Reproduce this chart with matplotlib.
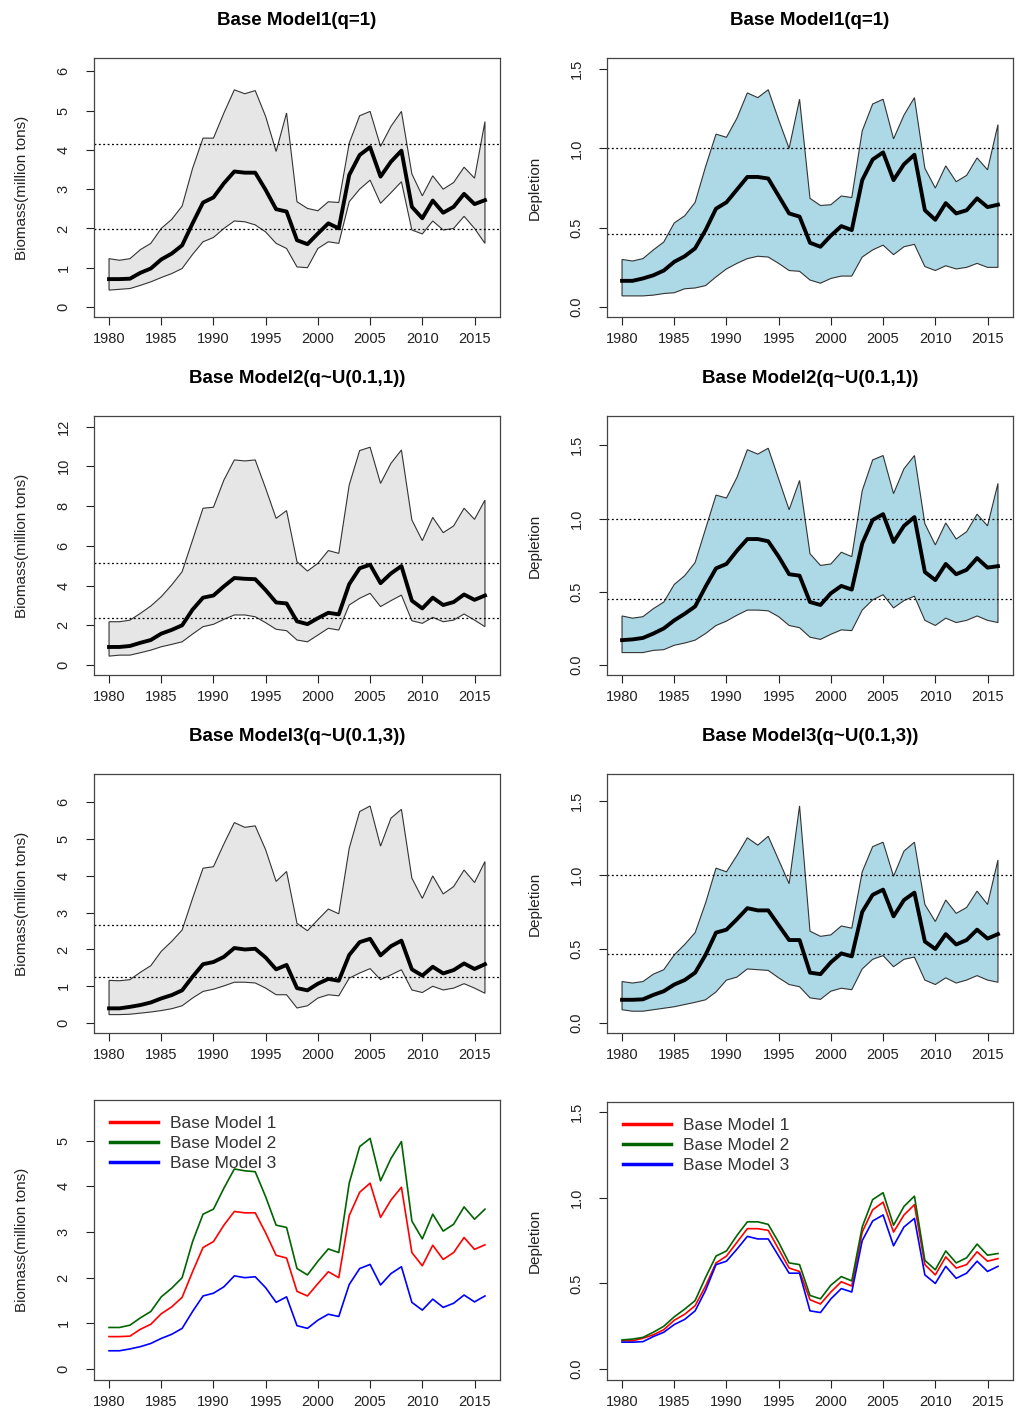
import numpy as np
import matplotlib
matplotlib.use("Agg")
import matplotlib.pyplot as plt

plt.rcParams['font.family'] = ['Liberation Sans', 'DejaVu Sans']

years = np.arange(1980, 2017)

# ---- biomass (million tons): median / lower / upper ----
bio1_med = [0.71, 0.71, 0.72, 0.87, 0.98, 1.21, 1.36, 1.57, 2.13, 2.66, 2.79, 3.15, 3.45, 3.42, 3.42, 2.98, 2.49, 2.43, 1.70, 1.60,
            1.87, 2.13, 2.00, 3.36, 3.87, 4.07, 3.32, 3.70, 3.98, 2.55, 2.26, 2.71, 2.40, 2.55, 2.88, 2.62, 2.72]
bio1_up = [1.23, 1.19, 1.23, 1.46, 1.62, 2.00, 2.23, 2.57, 3.53, 4.30, 4.30, 4.94, 5.53, 5.43, 5.51, 4.85, 3.96, 4.94, 2.68, 2.51,
           2.45, 2.68, 2.66, 4.17, 4.87, 4.98, 4.09, 4.60, 4.98, 3.39, 2.83, 3.34, 3.00, 3.17, 3.56, 3.28, 4.72]
bio1_lo = [0.43, 0.45, 0.47, 0.55, 0.64, 0.75, 0.85, 0.98, 1.34, 1.66, 1.77, 2.00, 2.19, 2.17, 2.09, 1.91, 1.62, 1.49, 1.02, 1.00,
           1.49, 1.66, 1.62, 2.68, 3.00, 3.23, 2.64, 2.91, 3.19, 1.96, 1.86, 2.19, 1.96, 2.00, 2.31, 2.00, 1.62]

bio2_med = [0.91, 0.91, 0.96, 1.12, 1.26, 1.58, 1.77, 2.00, 2.79, 3.39, 3.50, 3.96, 4.38, 4.34, 4.32, 3.77, 3.15, 3.10, 2.20, 2.06,
            2.36, 2.63, 2.55, 4.07, 4.87, 5.05, 4.12, 4.61, 4.98, 3.24, 2.85, 3.39, 3.02, 3.17, 3.55, 3.28, 3.50]
bio2_up = [2.18, 2.18, 2.26, 2.60, 2.97, 3.44, 4.03, 4.70, 6.29, 7.89, 7.94, 9.31, 10.32, 10.27, 10.32, 8.89, 7.38, 7.77, 5.20, 4.73,
           5.12, 5.76, 5.62, 9.06, 10.79, 10.96, 9.14, 10.15, 10.82, 7.30, 6.26, 7.43, 6.66, 7.00, 7.89, 7.33, 8.30]
bio2_lo = [0.45, 0.50, 0.50, 0.62, 0.75, 0.92, 1.04, 1.17, 1.56, 1.93, 2.05, 2.30, 2.52, 2.52, 2.43, 2.13, 1.80, 1.73, 1.26, 1.17,
           1.51, 1.85, 1.76, 3.02, 3.36, 3.61, 2.94, 3.24, 3.52, 2.23, 2.10, 2.40, 2.18, 2.26, 2.57, 2.26, 1.93]

bio3_med = [0.40, 0.40, 0.44, 0.49, 0.56, 0.67, 0.76, 0.89, 1.26, 1.60, 1.66, 1.80, 2.04, 2.00, 2.02, 1.78, 1.46, 1.58, 0.95, 0.89,
            1.07, 1.20, 1.15, 1.85, 2.20, 2.29, 1.84, 2.09, 2.24, 1.46, 1.29, 1.53, 1.35, 1.44, 1.62, 1.47, 1.60]
bio3_up = [1.16, 1.15, 1.18, 1.38, 1.56, 1.95, 2.22, 2.53, 3.39, 4.21, 4.25, 4.87, 5.45, 5.32, 5.36, 4.71, 3.85, 4.12, 2.71, 2.51,
           2.81, 3.10, 2.97, 4.75, 5.75, 5.90, 4.81, 5.57, 5.81, 3.94, 3.39, 4.00, 3.51, 3.71, 4.16, 3.82, 4.39]
bio3_lo = [0.23, 0.23, 0.24, 0.27, 0.30, 0.34, 0.39, 0.47, 0.68, 0.86, 0.92, 1.01, 1.11, 1.11, 1.09, 0.95, 0.77, 0.77, 0.41, 0.47,
           0.68, 0.77, 0.74, 1.22, 1.36, 1.48, 1.18, 1.31, 1.45, 0.90, 0.83, 1.00, 0.90, 0.95, 1.07, 0.95, 0.81]

# ---- depletion: median / lower / upper ----
dep1_med = [0.165, 0.165, 0.18, 0.20, 0.23, 0.285, 0.32, 0.37, 0.485, 0.62, 0.66, 0.74, 0.82, 0.82, 0.81, 0.70, 0.59, 0.57, 0.405, 0.38,
            0.45, 0.51, 0.485, 0.80, 0.93, 0.975, 0.80, 0.90, 0.96, 0.61, 0.55, 0.655, 0.59, 0.61, 0.685, 0.63, 0.645]
dep1_up = [0.30, 0.29, 0.305, 0.36, 0.41, 0.53, 0.575, 0.66, 0.885, 1.09, 1.07, 1.19, 1.35, 1.32, 1.37, 1.18, 1.00, 1.31, 0.685, 0.64,
           0.645, 0.70, 0.69, 1.11, 1.28, 1.31, 1.06, 1.21, 1.32, 0.875, 0.75, 0.89, 0.79, 0.83, 0.94, 0.865, 1.15]
dep1_lo = [0.07, 0.07, 0.07, 0.075, 0.085, 0.09, 0.115, 0.12, 0.135, 0.19, 0.24, 0.275, 0.305, 0.32, 0.315, 0.275, 0.23, 0.225, 0.17, 0.15,
           0.18, 0.195, 0.195, 0.315, 0.36, 0.39, 0.33, 0.38, 0.395, 0.255, 0.23, 0.26, 0.24, 0.25, 0.275, 0.25, 0.25]

dep2_med = [0.17, 0.175, 0.185, 0.215, 0.25, 0.305, 0.35, 0.40, 0.535, 0.66, 0.69, 0.78, 0.86, 0.86, 0.845, 0.74, 0.62, 0.61, 0.43, 0.41,
            0.49, 0.54, 0.515, 0.83, 0.99, 1.03, 0.84, 0.95, 1.01, 0.635, 0.58, 0.69, 0.62, 0.65, 0.73, 0.665, 0.675]
dep2_up = [0.335, 0.32, 0.33, 0.385, 0.43, 0.55, 0.61, 0.70, 0.93, 1.16, 1.14, 1.28, 1.47, 1.44, 1.48, 1.27, 1.06, 1.26, 0.76, 0.68,
           0.69, 0.77, 0.74, 1.19, 1.40, 1.43, 1.17, 1.34, 1.43, 0.965, 0.82, 0.97, 0.86, 0.91, 1.03, 0.95, 1.24]
dep2_lo = [0.085, 0.085, 0.085, 0.10, 0.105, 0.135, 0.15, 0.17, 0.215, 0.27, 0.30, 0.34, 0.375, 0.375, 0.37, 0.33, 0.27, 0.255, 0.19, 0.175,
           0.21, 0.24, 0.235, 0.375, 0.445, 0.48, 0.39, 0.44, 0.47, 0.305, 0.27, 0.32, 0.29, 0.305, 0.335, 0.305, 0.29]

dep3_med = [0.157, 0.157, 0.16, 0.19, 0.215, 0.26, 0.29, 0.34, 0.46, 0.61, 0.63, 0.70, 0.775, 0.76, 0.76, 0.66, 0.56, 0.56, 0.34, 0.33,
            0.41, 0.47, 0.45, 0.75, 0.865, 0.90, 0.72, 0.83, 0.88, 0.55, 0.50, 0.60, 0.53, 0.56, 0.63, 0.57, 0.60]
dep3_up = [0.28, 0.27, 0.28, 0.33, 0.36, 0.46, 0.53, 0.61, 0.81, 1.045, 1.02, 1.13, 1.25, 1.20, 1.26, 1.10, 0.94, 1.465, 0.62, 0.585,
           0.595, 0.655, 0.64, 1.02, 1.19, 1.22, 0.99, 1.16, 1.22, 0.80, 0.685, 0.83, 0.74, 0.78, 0.89, 0.80, 1.10]
dep3_lo = [0.09, 0.08, 0.08, 0.09, 0.10, 0.11, 0.125, 0.14, 0.157, 0.21, 0.29, 0.31, 0.365, 0.36, 0.355, 0.305, 0.26, 0.245, 0.17, 0.16,
           0.215, 0.235, 0.225, 0.365, 0.43, 0.455, 0.38, 0.43, 0.445, 0.29, 0.26, 0.305, 0.27, 0.29, 0.32, 0.29, 0.275]

# reference levels (dotted lines)
bio_ref = [(4.15, 1.98), (5.12, 2.35), (2.67, 1.25)]
dep_ref = [(1.0, 0.458), (1.0, 0.448), (1.0, 0.467)]

titles = ["Base Model1(q=1)", "Base Model2(q~U(0.1,1))", "Base Model3(q~U(0.1,3))"]
labels = ["Base Model 1", "Base Model 2", "Base Model 3"]
line_cols = ["#FF0000", "#006400", "#0000FF"]

W, H = 1022, 1418
fig = plt.figure(figsize=(W / 100, H / 100), dpi=100)


def make_ax(x0, x1, y0, y1):
    return fig.add_axes([x0 / W, 1 - y1 / H, (x1 - x0) / W, (y1 - y0) / H])


def style(ax, ylim, yticks, ylabels, ylab):
    ax.set_xlim(1978.56, 2017.44)
    ax.set_ylim(*ylim)
    ax.set_xticks(range(1980, 2016, 5))
    ax.set_yticks(yticks)
    ax.set_yticklabels(ylabels, rotation=90, va='center')
    ax.tick_params(direction='out', length=6, width=0.8, labelsize=10.5, colors='#222222')
    ax.tick_params(axis='x', pad=5)
    ax.tick_params(axis='y', pad=11)
    for s in ax.spines.values():
        s.set_linewidth(0.9)
        s.set_color('#444444')
    ax.set_ylabel(ylab, fontsize=11, color='#222222', labelpad=20)


def add_legend(ax):
    leg = ax.legend(loc='upper left', frameon=False, fontsize=12.5, handlelength=2.8, labelspacing=0.3,
                    borderaxespad=0.5, handletextpad=0.7)
    for h in leg.get_lines():
        h.set_linewidth(2.5)
    for t in leg.get_texts():
        t.set_color('#333333')


rows_y = [(58, 317), (416, 675), (774, 1033)]
left_x = (94, 500)
right_x = (607, 1013)

bio_med = [bio1_med, bio2_med, bio3_med]
bio_up = [bio1_up, bio2_up, bio3_up]
bio_lo = [bio1_lo, bio2_lo, bio3_lo]
dep_med = [dep1_med, dep2_med, dep3_med]
dep_up = [dep1_up, dep2_up, dep3_up]
dep_lo = [dep1_lo, dep2_lo, dep3_lo]

bio_ylims = [(-0.255, 6.34), (-0.5, 12.53), (-0.27, 6.77)]
bio_ticks = [list(range(0, 7)), list(range(0, 13, 2)), list(range(0, 7))]
dep_ylims = [(-0.063, 1.57), (-0.068, 1.70), (-0.067, 1.68)]

for i in range(3):
    y0, y1 = rows_y[i]
    # biomass panel
    ax = make_ax(left_x[0], left_x[1], y0, y1)
    poly_x = np.concatenate([years, years[::-1]])
    poly_y = np.concatenate([bio_up[i], bio_lo[i][::-1]])
    ax.fill(poly_x, poly_y, facecolor='#E6E6E6', edgecolor='#333333', lw=0.8)
    ax.plot(years, bio_med[i], color='black', lw=2.8)
    for r in bio_ref[i]:
        ax.axhline(r, color='black', lw=0.9, ls=(0, (1.5, 2)))
    style(ax, bio_ylims[i], bio_ticks[i], [str(t) for t in bio_ticks[i]], "Biomass(million tons)")
    ax.set_title(titles[i], fontsize=13.5, fontweight='bold', pad=24)

    # depletion panel
    ax = make_ax(right_x[0], right_x[1], y0, y1)
    poly_y = np.concatenate([dep_up[i], dep_lo[i][::-1]])
    ax.fill(poly_x, poly_y, facecolor='#ADD8E6', edgecolor='#333333', lw=0.8)
    ax.plot(years, dep_med[i], color='black', lw=2.8)
    for r in dep_ref[i]:
        ax.axhline(r, color='black', lw=0.9, ls=(0, (1.5, 2)))
    style(ax, dep_ylims[i], [0, 0.5, 1.0, 1.5], ["0.0", "0.5", "1.0", "1.5"], "Depletion")
    ax.set_title(titles[i], fontsize=13.5, fontweight='bold', pad=24)

# comparison panels
ax = make_ax(left_x[0], left_x[1], 1100, 1380)
for m, c, lab in zip(bio_med, line_cols, labels):
    ax.plot(years, m, color=c, lw=1.2, label=lab)
style(ax, (-0.24, 5.89), list(range(0, 6)), [str(t) for t in range(0, 6)], "Biomass(million tons)")
add_legend(ax)

ax = make_ax(right_x[0], right_x[1], 1102, 1380)
for m, c, lab in zip(dep_med, line_cols, labels):
    ax.plot(years, m, color=c, lw=1.2, label=lab)
style(ax, (-0.064, 1.56), [0, 0.5, 1.0, 1.5], ["0.0", "0.5", "1.0", "1.5"], "Depletion")
add_legend(ax)

fig.savefig("out.png", dpi=100, facecolor='white')
